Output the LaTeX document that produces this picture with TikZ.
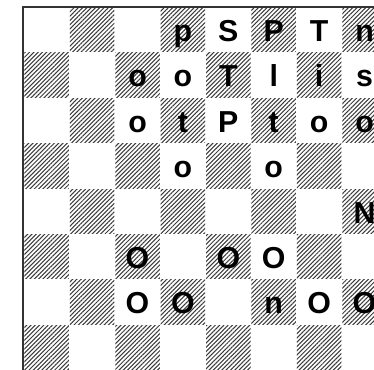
\documentclass[tikz,border=0pt]{standalone}
\usepackage{fontspec}
\setmainfont{Liberation Sans}
\usepackage{xcolor}
\definecolor{bFrame}{HTML}{333333}
\definecolor{bHatch}{HTML}{3A3A3A}
\usepackage{tikz}
\usetikzlibrary{patterns.meta}
\tikzset{
  darksq/.style={pattern={Lines[angle=45,distance=1.9pt,line width=0.65pt]}, pattern color=bHatch},
  piece/.style={anchor=base, inner sep=0pt, font=\fontsize{19}{19}\selectfont\bfseries}
}

\begin{document}
\begin{tikzpicture}
\useasboundingbox (-0.529,0.026) rectangle (7.709,8.154);
\foreach \c in {0,...,7} \foreach \r in {0,...,7} {
  \pgfmathparse{int(mod(\c+\r,2))}
  \ifnum\pgfmathresult=0
    \fill[darksq] (\c+0.01,\r+0.01) rectangle (\c+0.99,\r+0.99);
  \fi
}
\draw[bFrame, line width=1.3pt] (-0.02,0) -- (-0.02,8) -- (8,8);
\foreach \c/\r/\p in {3/7/p,4/7/S,5/7/P,6/7/T,7/7/n,
  2/6/o,3/6/o,4/6/T,5/6/l,6/6/i,7/6/s,
  2/5/o,3/5/t,4/5/P,5/5/t,6/5/o,7/5/o,
  3/4/o,5/4/o,
  7/3/N,
  2/2/O,4/2/O,5/2/O,
  2/1/O,3/1/O,5/1/n,6/1/O,7/1/O}
  \node[piece] (sq-\c-\r) at (\c+0.5,\r+0.24) {\p};
\end{tikzpicture}
\end{document}
